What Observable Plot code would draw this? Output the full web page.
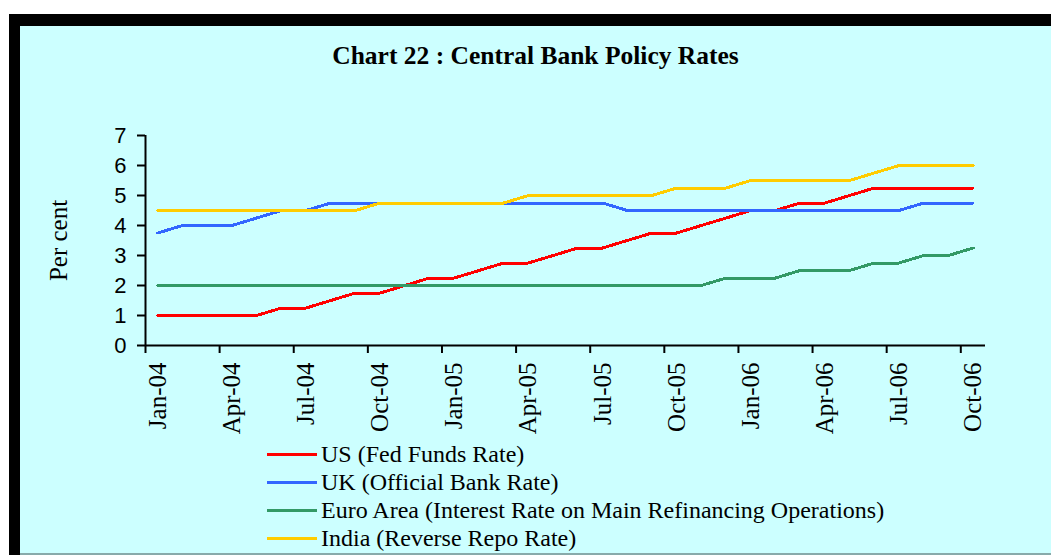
<!DOCTYPE html>
<html>
<head>
<meta charset="utf-8">
<script src="https://cdn.jsdelivr.net/npm/d3@7"></script>
<script src="https://cdn.jsdelivr.net/npm/@observablehq/plot@0.6"></script>
<style>
  html, body { margin: 0; padding: 0; background: #ffffff; width: 1051px; height: 555px; overflow: hidden; }
  #frame { position: absolute; left: 9px; top: 14px; width: 1042px; height: 541px; background: #000; }
  #inner { position: absolute; left: 11px; top: 12px; width: 1031px; height: 527px; background: #CCFFFF; border-bottom: 2px solid #8aa; }
  #title { height: 54px; box-sizing: border-box; padding-top: 17px; text-align: center;
           font-family: "Liberation Serif", "Times New Roman", serif; font-weight: bold; font-size: 25.5px; line-height: 25px; color: #000; }
  #legend { position: relative; height: 113px; font-family: "Liberation Serif", "Times New Roman", serif; font-size: 24px; color: #000; }
  .row { position: absolute; left: 247px; height: 28px; display: flex; align-items: center; white-space: nowrap; }
  .swatch { width: 50px; height: 3px; margin-right: 4px; }
  svg { display: block; }
</style>
</head>
<body>
<div id="frame"><div id="inner">
  <div id="title">Chart 22 : Central Bank Policy Rates</div>
  <div id="chart"></div>
  <div id="legend"></div>
</div></div>
<script>
// Month categories (Jan-04 .. Oct-06)
const months = ["Jan-04","Feb-04","Mar-04","Apr-04","May-04","Jun-04","Jul-04","Aug-04","Sep-04","Oct-04","Nov-04","Dec-04",
                "Jan-05","Feb-05","Mar-05","Apr-05","May-05","Jun-05","Jul-05","Aug-05","Sep-05","Oct-05","Nov-05","Dec-05",
                "Jan-06","Feb-06","Mar-06","Apr-06","May-06","Jun-06","Jul-06","Aug-06","Sep-06","Oct-06"];
const seriesNames = ["US (Fed Funds Rate)", "UK (Official Bank Rate)",
                     "Euro Area (Interest Rate on Main Refinancing Operations)", "India (Reverse Repo Rate)"];
const seriesColors = ["#FF0000", "#3366FF", "#339966", "#FFCC00"];
const us    = [1,1,1,1,1,1.25,1.25,1.5,1.75,1.75,2,2.25,2.25,2.5,2.75,2.75,3,3.25,3.25,3.5,3.75,3.75,4,4.25,4.5,4.5,4.75,4.75,5,5.25,5.25,5.25,5.25,5.25];
const uk    = [3.75,4,4,4,4.25,4.5,4.5,4.75,4.75,4.75,4.75,4.75,4.75,4.75,4.75,4.75,4.75,4.75,4.75,4.5,4.5,4.5,4.5,4.5,4.5,4.5,4.5,4.5,4.5,4.5,4.5,4.75,4.75,4.75];
const euro  = [2,2,2,2,2,2,2,2,2,2,2,2,2,2,2,2,2,2,2,2,2,2,2,2.25,2.25,2.25,2.5,2.5,2.5,2.75,2.75,3,3,3.25];
const india = [4.5,4.5,4.5,4.5,4.5,4.5,4.5,4.5,4.5,4.75,4.75,4.75,4.75,4.75,4.75,5,5,5,5,5,5,5.25,5.25,5.25,5.5,5.5,5.5,5.5,5.5,5.75,6,6,6,6];
const yTicks = [0,1,2,3,4,5,6,7];
const yLabel = "Per cent";

const allValues = [us, uk, euro, india];
const table = allValues.flatMap((vals, s) => vals.map((v, i) => ({series: seriesNames[s], i, v})));
const labelIdx = months.map((m, i) => i).filter(i => i % 3 === 0);
const boundaries = labelIdx.map(i => i - 0.5);

const serif = "'Liberation Serif', 'Times New Roman', serif";
const sans = "'Liberation Sans', Arial, sans-serif";

const chart = Plot.plot({
  width: 1031, height: 360,
  marginLeft: 125, marginRight: 66, marginTop: 55, marginBottom: 95,
  style: {background: "transparent", color: "#000", fontFamily: serif, overflow: "visible"},
  x: {domain: [-0.5, months.length - 0.5], axis: null},
  y: {domain: [0, 7], axis: null},
  color: {domain: seriesNames, range: seriesColors},
  marks: [
    Plot.axisY(yTicks, {tickSize: 8, tickPadding: 11, fontSize: 22, fontFamily: sans, label: null, strokeWidth: 2}),
    Plot.axisX(boundaries, {tickSize: 8, tickFormat: () => "", label: null, strokeWidth: 2}),
    Plot.axisX(labelIdx, {tickSize: 0, tickPadding: 17, tickRotate: -90, tickFormat: i => months[i], fontSize: 25, fontFamily: serif, label: null}),
    Plot.ruleY([0], {strokeWidth: 2}),
    Plot.ruleX([-0.5], {strokeWidth: 2}),
    Plot.line(table, {x: "i", y: "v", z: "series", stroke: "series", strokeWidth: 3, shapeRendering: "crispEdges"}),
    Plot.text([yLabel], {frameAnchor: "left", dx: -87, rotate: -90, textAnchor: "middle", fontSize: 25, fontFamily: serif})
  ]
});
document.getElementById("chart").appendChild(chart);

const legend = document.getElementById("legend");
seriesNames.forEach((name, k) => {
  const row = document.createElement("div");
  row.className = "row";
  row.style.top = (k * 28) + "px";
  const sw = document.createElement("span");
  sw.className = "swatch";
  sw.style.background = seriesColors[k];
  const tx = document.createElement("span");
  tx.textContent = name;
  row.appendChild(sw); row.appendChild(tx);
  legend.appendChild(row);
});
</script>
</body>
</html>
